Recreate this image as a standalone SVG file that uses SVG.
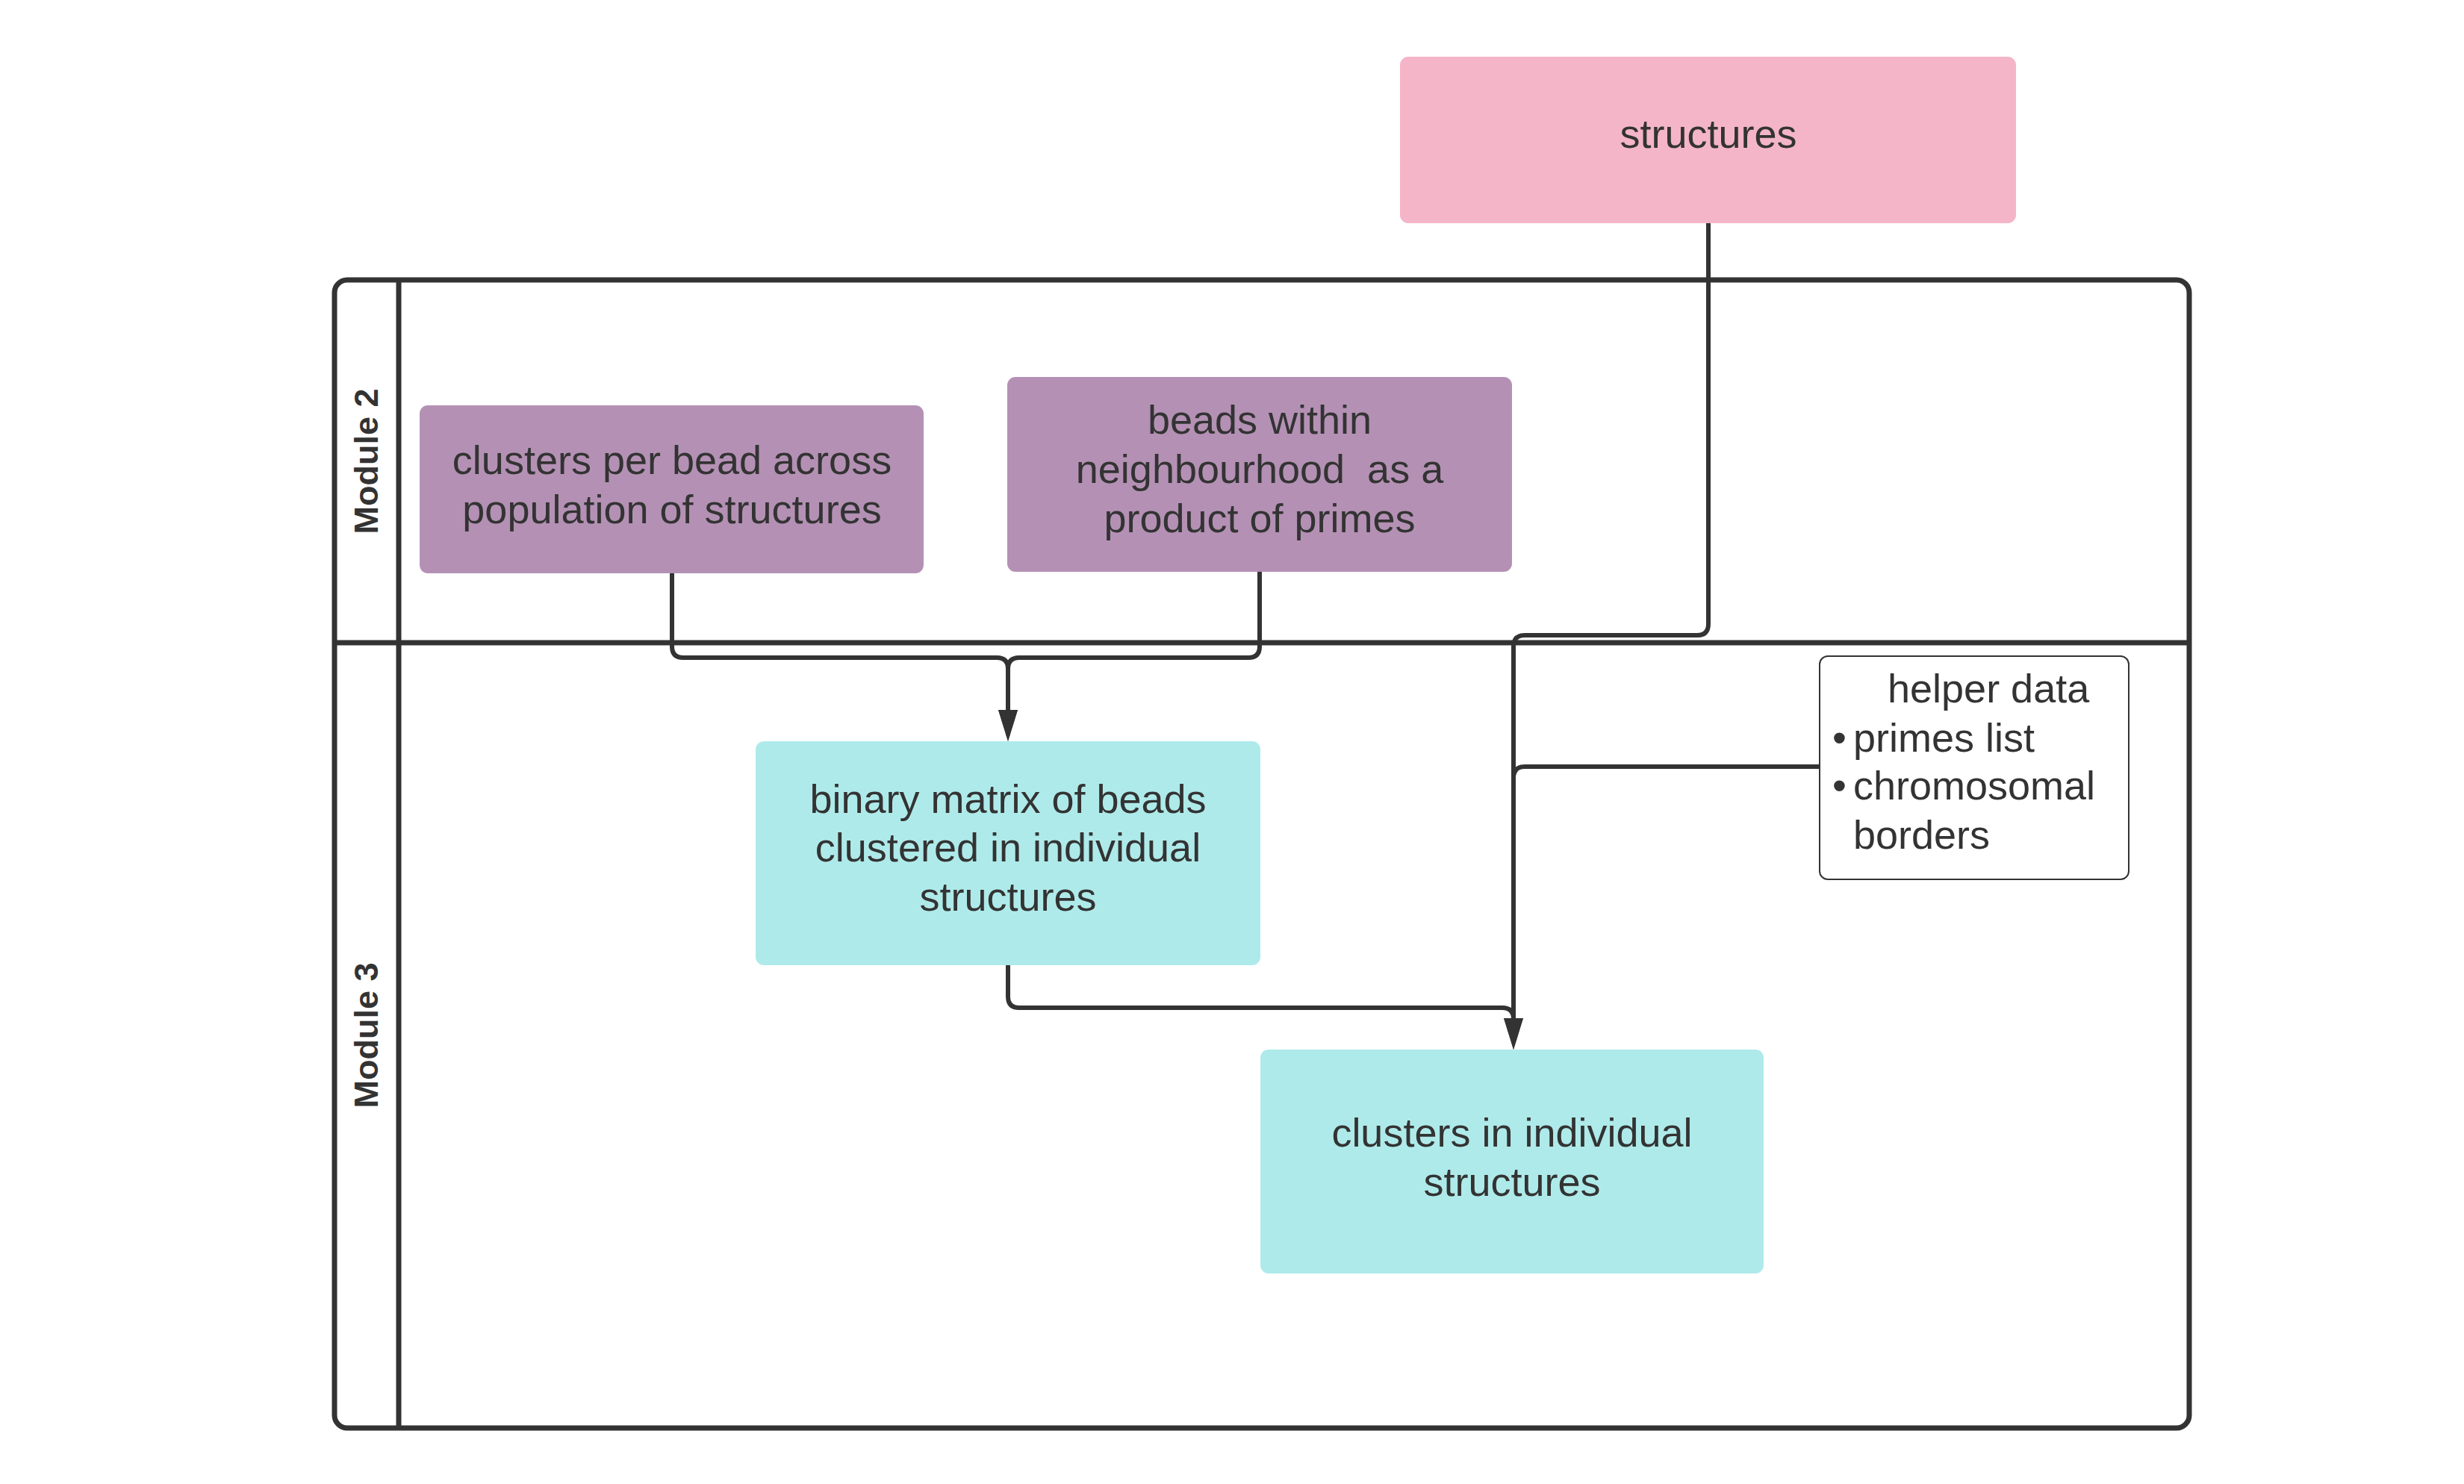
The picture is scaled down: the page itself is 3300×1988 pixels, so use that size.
<svg xmlns="http://www.w3.org/2000/svg" width="3300" height="1988" viewBox="0 0 3300 1988">
<style>
text{font-family:"Liberation Sans",Arial,sans-serif;fill:#333333;font-size:54px;white-space:pre}
.c{text-anchor:middle}
.mod{font-weight:bold;font-size:45px;text-anchor:middle;dominant-baseline:central}
.frame{fill:none;stroke:#333333;stroke-width:7}
.conn{fill:none;stroke:#333333;stroke-width:6}
.pink{fill:#F4B5C8}
.purple{fill:#B491B4}
.cyan{fill:#AFEAEA}
.helper{fill:#FFFFFF;stroke:#333333;stroke-width:2}
</style>
<defs>
<marker id="arr" viewBox="0 0 42 26" refX="2" refY="13" markerWidth="42" markerHeight="26" markerUnits="userSpaceOnUse" orient="auto">
<path d="M0,0 L42,13 L0,26 Z" fill="#333333"/>
</marker>
</defs>
<g id="pool">
<rect class="frame" x="448" y="375" width="2484" height="1538" rx="17"/>
<line class="frame" x1="534" y1="375" x2="534" y2="1913"/>
<line class="frame" x1="448" y1="861" x2="2932" y2="861" stroke-width="8"/>
<text class="mod" transform="translate(490,618) rotate(-90)">Module 2</text>
<text class="mod" transform="translate(490,1387) rotate(-90)">Module 3</text>
</g>
<g id="connectors">
<path class="conn" d="M900,768 V866 Q900,881 915,881 H1335 Q1350,881 1350,896 V953" marker-end="url(#arr)"/>
<path class="conn" d="M1687,766 V866 Q1687,881 1672,881 H1365 Q1350,881 1350,896 V953" marker-end="url(#arr)"/>
<path class="conn" d="M2288,299 V836 Q2288,851 2273,851 H2042 Q2027,851 2027,866 V1366" marker-end="url(#arr)"/>
<path class="conn" d="M2437,1027 H2042 Q2027,1027 2027,1042 V1366"/>
<path class="conn" d="M1350,1293 V1335 Q1350,1350 1365,1350 H2012 Q2027,1350 2027,1365 V1366" marker-end="url(#arr)"/>
</g>
<g id="structures">
<rect class="pink" x="1875" y="76" width="825" height="223" rx="11"/>
<text class="c" x="2288" y="198">structures</text>
</g>
<g id="clusters-per-bead">
<rect class="purple" x="562" y="543" width="675" height="225" rx="11"/>
<text class="c" x="900" y="635">clusters per bead across</text>
<text class="c" x="900" y="701">population of structures</text>
</g>
<g id="beads-within">
<rect class="purple" x="1349" y="505" width="676" height="261" rx="11"/>
<text class="c" x="1687" y="581">beads within</text>
<text class="c" x="1687" y="647" xml:space="preserve">neighbourhood  as a</text>
<text class="c" x="1687" y="713">product of primes</text>
</g>
<g id="binary-matrix">
<rect class="cyan" x="1012" y="993" width="676" height="300" rx="11"/>
<text class="c" x="1350" y="1089">binary matrix of beads</text>
<text class="c" x="1350" y="1154">clustered in individual</text>
<text class="c" x="1350" y="1220">structures</text>
</g>
<g id="clusters-individual">
<rect class="cyan" x="1688" y="1406" width="674" height="300" rx="11"/>
<text class="c" x="2025" y="1536">clusters in individual</text>
<text class="c" x="2025" y="1602">structures</text>
</g>
<g id="helper-data">
<rect class="helper" x="2437" y="879" width="414" height="299" rx="11"/>
<text x="2528" y="941">helper data</text>
<text x="2454" y="1007">•</text>
<text x="2482" y="1007">primes list</text>
<text x="2454" y="1071">•</text>
<text x="2482" y="1071">chromosomal</text>
<text x="2482" y="1137">borders</text>
</g>
</svg>
